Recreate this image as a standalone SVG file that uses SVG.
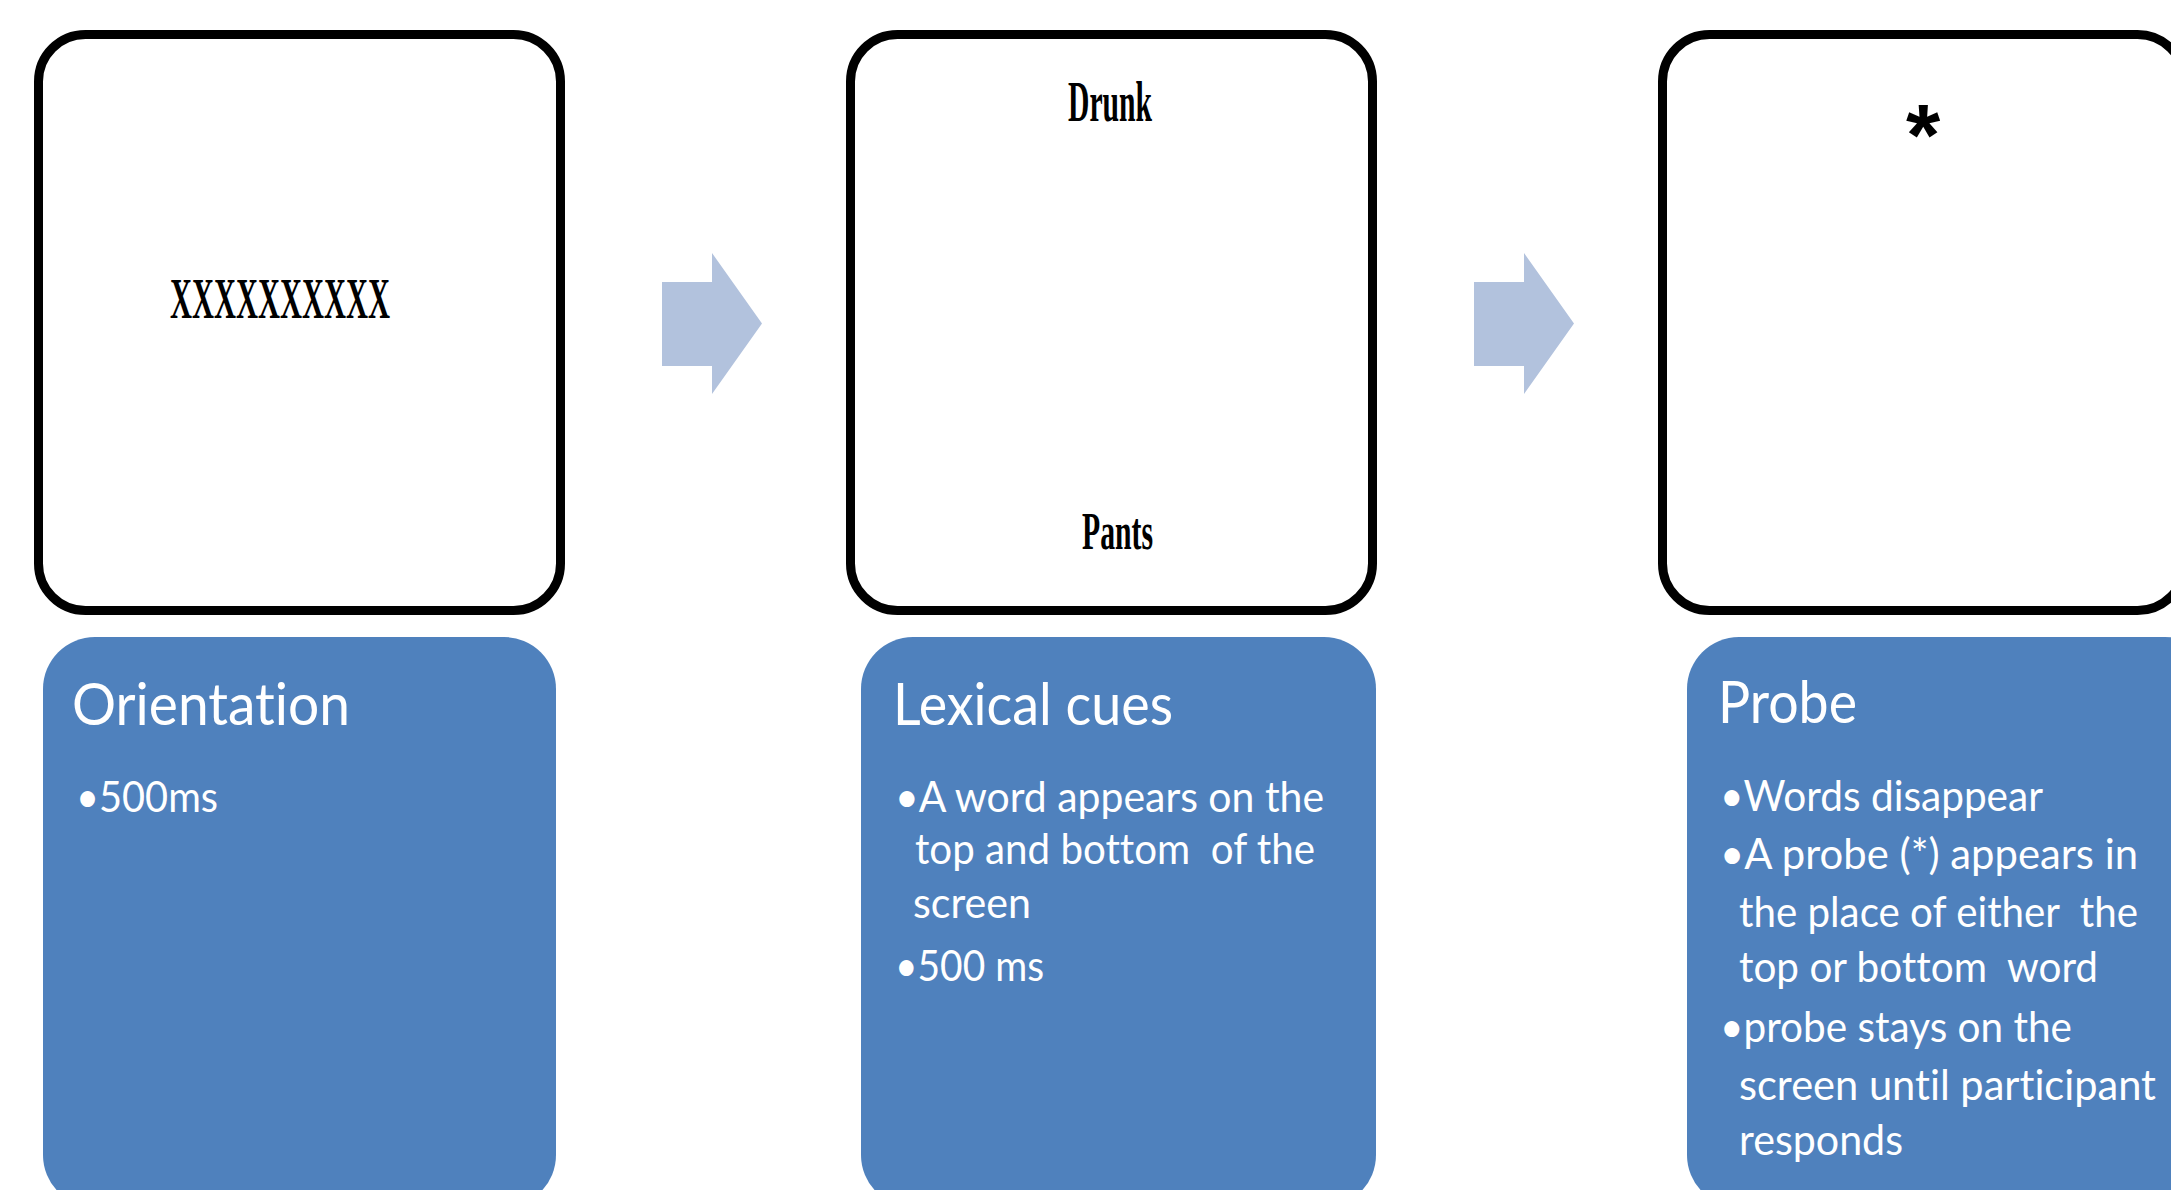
<svg xmlns="http://www.w3.org/2000/svg" width="2171" height="1190" viewBox="0 0 2171 1190">
  <style>
    .screen { fill: #ffffff; stroke: #000000; stroke-width: 9; }
    .card { fill: #4F81BD; }
    .word { font-family: "Liberation Serif", "Times New Roman", serif; font-weight: bold; fill: #000000; }
    .title { font-family: Lato, "Open Sans", "Liberation Sans", sans-serif; font-size: 58px; fill: #ffffff; font-variant-ligatures: none; }
    .body { font-family: Lato, "Open Sans", "Liberation Sans", sans-serif; font-size: 42px; fill: #ffffff; font-variant-ligatures: none; }
    .arrow { fill: #B2C2DD; }
  </style>
  <rect width="2171" height="1190" fill="#ffffff"/>

  <g id="connectors">
    <polygon class="arrow" points="662,282 712,282 712,253 762,323.5 712,394 712,366 662,366"/>
    <polygon class="arrow" points="1474,282 1524,282 1524,253 1574,323.5 1524,394 1524,366 1474,366"/>
  </g>

  <g id="screen-orientation">
    <rect class="screen" x="38.5" y="34.5" width="522" height="576" rx="47" ry="47"/>
    <text class="word" x="170" y="318" font-size="56" textLength="220" lengthAdjust="spacingAndGlyphs">XXXXXXXXXX</text>
  </g>

  <g id="screen-lexical">
    <rect class="screen" x="850.5" y="34.5" width="522" height="576" rx="47" ry="47"/>
    <text class="word" x="1068" y="121" font-size="56" textLength="84" lengthAdjust="spacingAndGlyphs">Drunk</text>
    <text class="word" x="1082" y="549" font-size="53" textLength="71" lengthAdjust="spacingAndGlyphs">Pants</text>
  </g>

  <g id="screen-probe">
    <rect class="screen" x="1662.5" y="34.5" width="522" height="576" rx="47" ry="47"/>
    <text x="1923" y="165" font-family="'Liberation Sans', Arial, sans-serif" font-weight="bold" font-size="88" text-anchor="middle" fill="#000000">*</text>
  </g>

  <g id="card-orientation">
    <rect class="card" x="43" y="637" width="513" height="570" rx="52" ry="52"/>
    <text class="title" x="72" y="725" textLength="278" lengthAdjust="spacingAndGlyphs">Orientation</text>
    <text class="body" x="76" y="812" textLength="142" lengthAdjust="spacingAndGlyphs">•500ms</text>
  </g>

  <g id="card-lexical">
    <rect class="card" x="861" y="637" width="515" height="570" rx="52" ry="52"/>
    <text class="title" x="893" y="725" textLength="280" lengthAdjust="spacingAndGlyphs">Lexical cues</text>
    <text class="body" x="895" y="812" textLength="429" lengthAdjust="spacingAndGlyphs">•A word appears on the</text>
    <text class="body" x="915" y="864" textLength="400" lengthAdjust="spacingAndGlyphs" xml:space="preserve">top and bottom  of the</text>
    <text class="body" x="913" y="918" textLength="118" lengthAdjust="spacingAndGlyphs">screen</text>
    <text class="body" x="895" y="981" textLength="149" lengthAdjust="spacingAndGlyphs">•500 ms</text>
  </g>

  <g id="card-probe">
    <rect class="card" x="1687" y="637" width="530" height="570" rx="52" ry="52"/>
    <text class="title" x="1718" y="723" textLength="139" lengthAdjust="spacingAndGlyphs">Probe</text>
    <text class="body" x="1720" y="811" textLength="323" lengthAdjust="spacingAndGlyphs">•Words disappear</text>
    <text class="body" x="1720" y="869" textLength="418" lengthAdjust="spacingAndGlyphs">•A probe (*) appears in</text>
    <text class="body" x="1739" y="927" textLength="399" lengthAdjust="spacingAndGlyphs" xml:space="preserve">the place of either  the</text>
    <text class="body" x="1739" y="982" textLength="359" lengthAdjust="spacingAndGlyphs" xml:space="preserve">top or bottom  word</text>
    <text class="body" x="1720" y="1042" textLength="352" lengthAdjust="spacingAndGlyphs">•probe stays on the</text>
    <text class="body" x="1739" y="1100" textLength="417" lengthAdjust="spacingAndGlyphs">screen until participant</text>
    <text class="body" x="1739" y="1155" textLength="164" lengthAdjust="spacingAndGlyphs">responds</text>
  </g>
</svg>
